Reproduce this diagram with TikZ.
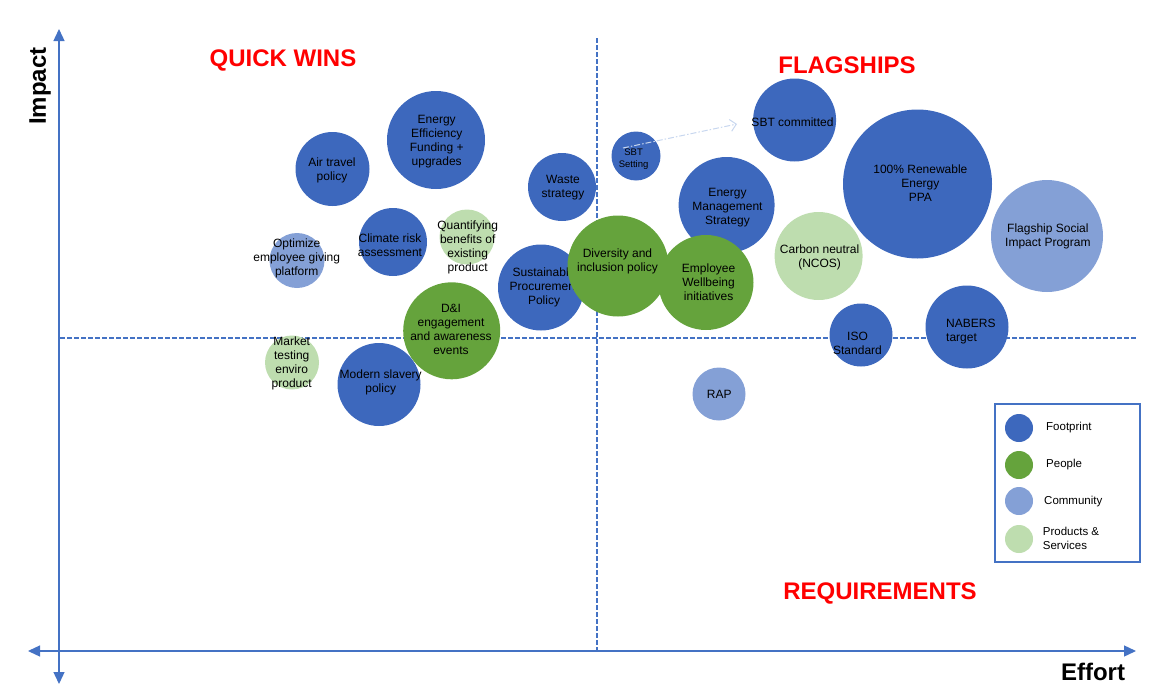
\documentclass[tikz,border=0pt]{standalone}
\usepackage{fontspec}
\setmainfont{Liberation Sans}
\usetikzlibrary{arrows.meta}
\definecolor{fp}{HTML}{3D68BD}
\definecolor{pe}{HTML}{65A33C}
\definecolor{com}{HTML}{84A0D6}
\definecolor{ps}{HTML}{BEDDAF}
\definecolor{axblue}{HTML}{4472C4}
\definecolor{arrlight}{HTML}{C8D7EF}
\begin{document}
\begin{tikzpicture}[x=1pt,y=-1pt,
  bub/.style={circle,inner sep=0pt,minimum size=#1},
  fpb/.style={bub=#1,fill=fp},
  peb/.style={bub=#1,fill=pe},
  comb/.style={bub=#1,fill=com},
  psb/.style={bub=#1,fill=ps},
  txt/.style={font=\fontsize{12}{14}\selectfont,align=center,inner sep=0pt,text=black},
  smalltxt/.style={font=\fontsize{9.5}{12}\selectfont,align=center,inner sep=0pt,text=black},
  ltxt/.style={font=\fontsize{11.5}{14}\selectfont,align=left,inner sep=0pt,anchor=west,text=black},
  quad/.style={font=\fontsize{24}{28}\selectfont\bfseries,text=red,inner sep=0pt},
  axlabel/.style={font=\fontsize{24}{28}\selectfont\bfseries,text=black,inner sep=0pt},
  axis/.style={draw=axblue,line width=1.3pt,arrows={Triangle[length=12pt,width=11pt]-Triangle[length=12pt,width=11pt]}},
  quadline/.style={draw=axblue,line width=1.1pt,dash pattern=on 4.5pt off 2.5pt},
  sbtarrow/.style={draw=arrlight,line width=1pt,dash pattern=on 6pt off 2pt on 1.5pt off 2pt,-{Straight Barb[length=6pt,width=12pt]}},
  ]
\useasboundingbox (0,0) rectangle (1170,696);

% quadrant lines
\coordinate (hl) at (60,338);
\coordinate (hr) at (1137,338);
\coordinate (vt) at (597,38);
\coordinate (vb) at (597,651);
\draw[quadline] (hl) -- (hr);
\draw[quadline] (vt) -- (vb);

% axes
\coordinate (ytop) at (59,29);
\coordinate (ybot) at (59,684);
\coordinate (xl) at (28,651);
\coordinate (xr) at (1136,651);
\draw[axis] (ybot) -- (ytop);
\draw[axis] (xl) -- (xr);

% quadrant titles and axis labels
\node[quad] (qw) at (283,60) {QUICK WINS};
\node[quad] (fl) at (847,65) {FLAGSHIPS};
\node[quad] (rq) at (880,593) {REQUIREMENTS};
\node[axlabel] (eff) at (1093,672) {Effort};
\node[axlabel,rotate=90] (imp) at (40,86) {Impact};

% bubbles
\node[fpb=74pt] (air) at (332.5,169) {};
\node[txt] (airT) at (332,170) {Air travel\\policy};

\node[fpb=98pt] (eeff) at (436,140) {};
\node[txt] (eeffT) at (436.7,141.3) {Energy\\Efficiency\\Funding +\\upgrades};

\node[fpb=68pt] (waste) at (562,187) {};
\node[txt] (wasteT) at (563,188) {Waste\\strategy};

\node[fpb=68pt] (clim) at (393,242) {};
\node[txt] (climT) at (390,245) {Climate risk\\assessment};

\node[psb=55pt] (quant) at (467,237) {};
\node[txt] (quantT) at (467.7,247.5) {Quantifying\\benefits of\\existing\\product};

\node[comb=55pt] (optim) at (297,260.5) {};
\node[txt] (optimT) at (296.7,258.8) {Optimize\\employee giving\\platform};

\node[fpb=86pt] (sust) at (541,287.5) {};
\node[txt] (sustT) at (544,287.7) {Sustainable\\Procurement\\Policy};

\node[peb=101pt] (div) at (618,266) {};
\node[txt] (divT) at (617.5,261) {Diversity and\\inclusion policy};

\node[fpb=83pt] (mslav) at (379,384.5) {};
\node[peb=97pt] (dni) at (451.7,330.8) {};
\node[txt] (mslavT) at (380.7,382.8) {Modern slavery\\policy};
\node[txt] (dniT) at (451,329.5) {D\&I\\engagement\\and awareness\\events};

\node[psb=54pt] (mkt) at (292,362.5) {};
\node[txt] (mktT) at (291.7,363) {Market\\testing\\enviro\\product};

\node[fpb=49pt] (sbts) at (636,156) {};
\node[smalltxt] (sbtsT) at (633.6,159.5) {SBT\\Setting};

\node[fpb=83pt] (sbtc) at (794.6,120) {};
\node[txt] (sbtcT) at (792.5,122.7) {SBT committed};

\node[fpb=96pt] (emg) at (726.6,205) {};
\node[txt] (emgT) at (727.5,208) {Energy\\Management\\Strategy};

\node[peb=95pt] (well) at (706,282.5) {};
\node[txt] (wellT) at (708.6,282) {Employee\\Wellbeing\\initiatives};

\node[fpb=149pt] (ren) at (917.5,184) {};
\node[txt] (renT) at (920.4,183) {100\% Renewable\\Energy\\PPA};

\node[comb=112pt] (flag) at (1047,236) {};
\node[txt] (flagT) at (1047.9,236) {Flagship Social\\Impact Program};

\node[psb=88pt] (cn) at (818.6,256) {};
\node[txt] (cnT) at (819.6,257) {Carbon neutral\\(NCOS)};

\node[fpb=63pt] (iso) at (861,335) {};
\node[txt] (isoT) at (857.5,343.8) {ISO\\Standard};

\node[fpb=83pt] (nab) at (967,327) {};
\node[txt,align=left,anchor=west] (nabT) at (946,331.7) {NABERS\\target};

\node[comb=53pt] (rap) at (719,394) {};
\node[txt] (rapT) at (719.3,394.3) {RAP};

% SBT setting -> committed
\coordinate (sa) at (623,148);
\coordinate (sb) at (737,124);
\draw[sbtarrow] (sa) -- (sb);

% legend
\node[draw=axblue,line width=1.5pt,fill=white,minimum width=145pt,minimum height=158pt,inner sep=0pt] (leg) at (1067.5,483) {};
\node[fpb=28pt] (lfp) at (1019,428) {};
\node[peb=28pt] (lpe) at (1019,465) {};
\node[comb=28pt] (lcom) at (1019,501) {};
\node[psb=28pt] (lps) at (1019,539) {};
\node[ltxt] (lfpT) at (1046,428) {Footprint};
\node[ltxt] (lpeT) at (1046,465) {People};
\node[ltxt] (lcomT) at (1044,502) {Community};
\node[ltxt] (lpsT) at (1042.7,538.5) {Products \&\\Services};
\end{tikzpicture}
\end{document}
